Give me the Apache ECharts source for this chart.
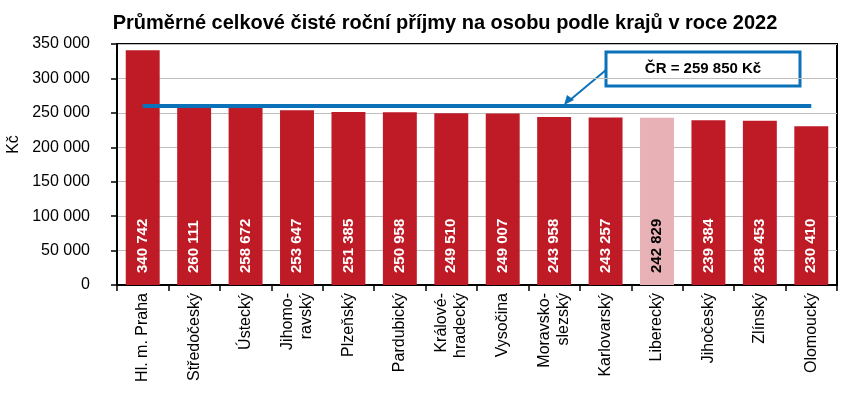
<!DOCTYPE html>
<html><head><meta charset="utf-8">
<script src="https://cdn.jsdelivr.net/npm/echarts@6/dist/echarts.min.js"></script>
<style>html,body{margin:0;padding:0;background:#fff}#c{width:844px;height:399px}</style>
</head><body><div id="c"></div>
<script>
const categories = ['Hl. m. Praha','Středočeský','Ústecký','Jihomo-\nravský','Plzeňský','Pardubický','Králové-\nhradecký','Vysočina','Moravsko-\nslezský','Karlovarský','Liberecký','Jihočeský','Zlínský','Olomoucký'];
const values = [340742,260111,258672,253647,251385,250958,249510,249007,243958,243257,242829,239384,238453,230410];
const highlightIndex = 10;
const average = 259850;
const yTicks = {min:0, max:350000, interval:50000};
const titleText = 'Průměrné celkové čisté roční příjmy na osobu podle krajů v roce 2022';
const calloutText = 'ČR = 259 850 Kč';

const fmt = v => String(v).replace(/\B(?=(\d{3})+(?!\d))/g, ' ');
const RED = '#BE1B27', PINK = '#E8B1B6', BLUE = '#0B72BA';
const font = 'Liberation Sans, Arial, sans-serif';

const chart = echarts.init(document.getElementById('c'));
chart.setOption({
  animation:false,
  title:{text:titleText,left:440,textAlign:'center',top:8,textStyle:{fontFamily:font,fontSize:20,fontWeight:'bold',color:'#000'}},
  grid:{left:117,right:7,top:44,bottom:114,show:true,borderColor:'#000',borderWidth:2,backgroundColor:'transparent',outerBoundsMode:'none',containLabel:false},
  xAxis:{type:'category',data:categories,
    axisLine:{lineStyle:{color:'#000',width:2}},
    axisTick:{show:true,length:6,lineStyle:{color:'#000',width:1.5},alignWithLabel:false},
    axisLabel:{rotate:90,fontFamily:font,fontSize:16,color:'#000',interval:0,margin:8,lineHeight:19}},
  yAxis:{type:'value',min:yTicks.min,max:yTicks.max,interval:yTicks.interval,
    name:'Kč',nameLocation:'middle',nameGap:94,nameRotate:90,nameTextStyle:{fontFamily:font,fontSize:16,color:'#000',padding:[0,0,0,40]},
    axisLine:{show:true,lineStyle:{color:'#000',width:2}},
    axisTick:{show:true,length:6,lineStyle:{color:'#000',width:1.5}},
    splitLine:{lineStyle:{color:'#BFBFBF',width:1}},
    axisLabel:{fontFamily:font,fontSize:16,color:'#000',margin:27,formatter:v=>fmt(v)}},
  series:[{
    type:'bar',barCategoryGap:'34%',
    data:values.map((v,i)=>({value:v,itemStyle:{color:i===highlightIndex?PINK:RED},
      label:{color:i===highlightIndex?'#000':'#fff'}})),
    label:{show:true,position:'insideBottom',rotate:90,align:'left',verticalAlign:'middle',distance:12,
      fontFamily:font,fontSize:15,fontWeight:'bold',formatter:p=>fmt(p.value)},
    markLine:{symbol:['none','none'],silent:true,label:{show:false},
      lineStyle:{color:BLUE,width:4,type:'solid'},
      data:[[{xAxis:0,yAxis:average},{xAxis:categories.length-1,yAxis:average}]]}
  }],
  graphic:[
    {type:'line',shape:{x1:606,y1:70,x2:570,y2:100},style:{stroke:BLUE,lineWidth:2}},
    {type:'polygon',shape:{points:[[564,105],[567,95],[574,100]]},style:{fill:BLUE}},
    {type:'rect',shape:{x:606,y:52,width:194,height:34},style:{fill:'#fff',stroke:BLUE,lineWidth:3}},
    {type:'text',x:703,y:69,style:{text:calloutText,fontFamily:font,fontSize:15,fontWeight:'bold',fill:'#000',align:'center',verticalAlign:'middle'}}
  ]
});
</script></body></html>
